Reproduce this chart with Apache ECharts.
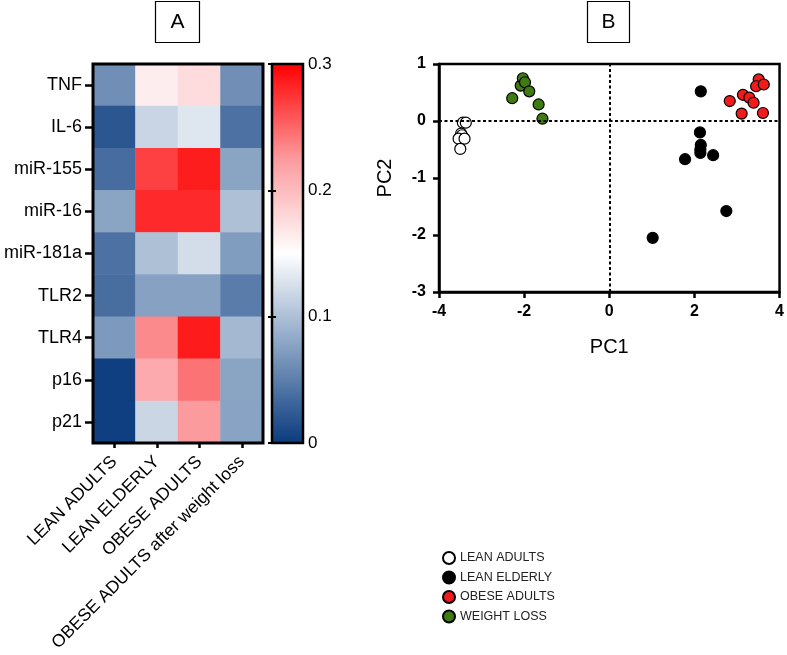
<!DOCTYPE html>
<html>
<head>
<meta charset="utf-8">
<script src="https://cdn.jsdelivr.net/npm/echarts@6/dist/echarts.min.js"></script>
<style>html,body{margin:0;padding:0;background:#fff}#c{width:787px;height:655px}</style>
</head>
<body>
<div id="c"></div>
<script>
// ---------- Panel A: heatmap data ----------
const genes = ['TNF','IL-6','miR-155','miR-16','miR-181a','TLR2','TLR4','p16','p21'];
const groupsA = ['LEAN ADULTS','LEAN ELDERLY','OBESE ADULTS','OBESE ADULTS after weight loss'];
const leanAdults   = [0.062, 0.020, 0.037, 0.078, 0.040, 0.038, 0.070, 0.003, 0.003];
const leanElderly  = [0.163, 0.117, 0.269, 0.280, 0.100, 0.076, 0.233, 0.213, 0.118];
const obeseAdults  = [0.176, 0.130, 0.286, 0.280, 0.123, 0.076, 0.287, 0.244, 0.224];
const obeseAfterWL = [0.062, 0.040, 0.078, 0.100, 0.072, 0.048, 0.094, 0.078, 0.077];
const colorbarTicks = [0, 0.1, 0.2, 0.3];

// ---------- Panel B: PCA scores ----------
const leanAdultsPC = [[-3.44,-0.03],[-3.37,-0.03],[-3.48,-0.22],[-3.46,-0.25],[-3.54,-0.31],[-3.40,-0.31],[-3.50,-0.49]];
const leanElderlyPC = [[2.15,0.52],[2.13,-0.20],[2.15,-0.42],[2.14,-0.50],[2.14,-0.56],[1.78,-0.67],[2.44,-0.60],[2.75,-1.58],[1.02,-2.05]];
const obeseAdultsPC = [[2.83,0.35],[3.14,0.46],[3.29,0.41],[3.39,0.32],[3.11,0.13],[3.51,0.73],[3.45,0.61],[3.63,0.64],[3.61,0.14]];
const weightLossPC = [[-2.28,0.40],[-2.08,0.62],[-2.03,0.75],[-1.98,0.68],[-1.88,0.52],[-1.66,0.29],[-1.57,0.04]];
const pcTicksX = [-4,-2,0,2,4];
const pcTicksY = [-3,-2,-1,0,1];

const FONT = 'Arial, "Liberation Sans", sans-serif';
const heatData = [];
[leanAdults, leanElderly, obeseAdults, obeseAfterWL].forEach((col, ci) => {
  col.forEach((v, ri) => heatData.push([ci, ri, v]));
});

const cbLabel = v => {
  const r = Math.round(v * 10) / 10;
  return colorbarTicks.indexOf(r) >= 0 ? String(r) : '';
};

const chart = echarts.init(document.getElementById('c'), null, {renderer:'canvas'});
const option = {
  backgroundColor: '#fff',
  animation: false,
  textStyle: {fontFamily: FONT},
  grid: [
    {left: 93, top: 64, width: 170, height: 379, show: true, borderColor: '#000', borderWidth: 3, backgroundColor: 'transparent', z: 5},
    {left: 439, top: 64, width: 343, height: 228, show: true, borderColor: '#000', borderWidth: 2.5, backgroundColor: 'transparent'},
    {left: 272, top: 64, width: 31, height: 379, show: true, borderColor: '#000', borderWidth: 2.5, backgroundColor: 'transparent', z: 10}
  ],
  xAxis: [
    {gridIndex: 0, type: 'category', data: groupsA, position: 'bottom',
     axisLine: {show: false}, axisTick: {show: true, alignWithLabel: true, length: 5, lineStyle: {color: '#000', width: 2.5}},
     axisLabel: {rotate: 45, fontSize: 17.5, color: '#000', margin: 16, fontFamily: FONT},
     splitLine: {show: false}, z: 6},
    {gridIndex: 1, type: 'value', min: -4, max: 4, interval: 2, name: 'PC1', nameLocation: 'middle', nameGap: 45,
     nameTextStyle: {fontSize: 20, color: '#000', fontFamily: FONT, verticalAlign: 'top'},
     axisLine: {show: true, onZero: false, lineStyle: {color: '#000', width: 2.5}},
     axisTick: {show: true, length: 6, lineStyle: {color: '#000', width: 2.5}},
     axisLabel: {fontSize: 16, fontWeight: 'bold', color: '#000', margin: 12, fontFamily: FONT},
     splitLine: {show: false}},
    {gridIndex: 2, type: 'value', min: 0, max: 1, show: false}
  ],
  yAxis: [
    {gridIndex: 0, type: 'category', data: genes, inverse: true,
     axisLine: {show: false}, axisTick: {show: true, alignWithLabel: true, length: 8, lineStyle: {color: '#000', width: 2.5}},
     axisLabel: {fontSize: 18, color: '#000', margin: 11, fontFamily: FONT}, splitLine: {show: false}, z: 6},
    {gridIndex: 1, type: 'value', min: -3, max: 1, interval: 1, name: 'PC2', nameLocation: 'middle', nameGap: 44,
     nameTextStyle: {fontSize: 20, color: '#000', fontFamily: FONT},
     axisLine: {show: true, onZero: false, lineStyle: {color: '#000', width: 2.5}},
     axisTick: {show: true, length: 6, lineStyle: {color: '#000', width: 2.5}},
     axisLabel: {fontSize: 16, fontWeight: 'bold', color: '#000', margin: 13, fontFamily: FONT},
     splitLine: {show: false}},
    {gridIndex: 2, type: 'value', min: 0, max: 0.3, interval: 0.1, position: 'right',
     axisLine: {show: false}, axisTick: {show: true, inside: true, length: 4, lineStyle: {color: '#000', width: 2}},
     axisLabel: {fontSize: 17, color: '#000', margin: 5, fontFamily: FONT, formatter: cbLabel},
     splitLine: {show: false}, z: 12},
    {gridIndex: 2, type: 'value', min: 0, max: 0.3, interval: 0.1, position: 'left',
     axisLine: {show: false}, axisTick: {show: true, inside: true, length: 4, lineStyle: {color: '#000', width: 2}},
     axisLabel: {show: false}, splitLine: {show: false}, z: 12}
  ],
  visualMap: {
    type: 'continuous', seriesIndex: 0, min: 0, max: 0.3, calculable: false, orient: 'vertical',
    left: 272, top: 64, itemWidth: 31, itemHeight: 379, padding: 0, hoverLink: false,
    inRange: {color: ['#0a3b7e', '#85a0c2', '#ffffff', '#fb9a9d', '#ff0000']}
  },
  legend: {
    orient: 'vertical', left: 437, top: 546, itemGap: 5.5, itemWidth: 12, itemHeight: 12, icon: 'circle',
    data: ['LEAN ADULTS','LEAN ELDERLY','OBESE ADULTS','WEIGHT LOSS'],
    textStyle: {fontSize: 12.5, color: '#222', fontFamily: FONT}
  },
  graphic: [
    {type: 'rect', shape: {x: 155.5, y: 1.5, width: 44, height: 41}, style: {fill: '#fff', stroke: '#000', lineWidth: 1.2}},
    {type: 'text', x: 177.5, y: 22, style: {text: 'A', fontSize: 21, fontFamily: FONT, fill: '#000', align: 'center', verticalAlign: 'middle'}},
    {type: 'rect', shape: {x: 587.5, y: 1.5, width: 42, height: 41}, style: {fill: '#fff', stroke: '#000', lineWidth: 1.2}},
    {type: 'text', x: 608.5, y: 22, style: {text: 'B', fontSize: 21, fontFamily: FONT, fill: '#000', align: 'center', verticalAlign: 'middle'}}
  ],
  series: [
    {type: 'heatmap', xAxisIndex: 0, yAxisIndex: 0, data: heatData, itemStyle: {borderWidth: 0}, emphasis: {disabled: true}},
    {type: 'scatter', name: 'LEAN ADULTS', xAxisIndex: 1, yAxisIndex: 1, data: leanAdultsPC, symbolSize: 11,
     itemStyle: {color: '#ffffff', borderColor: '#000', borderWidth: 1.2, opacity: 1},
     markLine: {silent: true, symbol: 'none', label: {show: false},
       lineStyle: {color: '#000', type: [3, 2.5], width: 2},
       data: [{xAxis: 0}, {yAxis: 0}]}, z: 3},
    {type: 'scatter', name: 'LEAN ELDERLY', xAxisIndex: 1, yAxisIndex: 1, data: leanElderlyPC, symbolSize: 11,
     itemStyle: {color: '#000000', borderColor: '#000', borderWidth: 1.2, opacity: 1}, z: 3},
    {type: 'scatter', name: 'OBESE ADULTS', xAxisIndex: 1, yAxisIndex: 1, data: obeseAdultsPC, symbolSize: 11,
     itemStyle: {color: '#f21b1b', borderColor: '#000', borderWidth: 1.2, opacity: 1}, z: 3},
    {type: 'scatter', name: 'WEIGHT LOSS', xAxisIndex: 1, yAxisIndex: 1, data: weightLossPC, symbolSize: 11,
     itemStyle: {color: '#3f7a12', borderColor: '#000', borderWidth: 1.2, opacity: 1}, z: 3}
  ]
};
chart.setOption(option);
</script>
</body>
</html>
